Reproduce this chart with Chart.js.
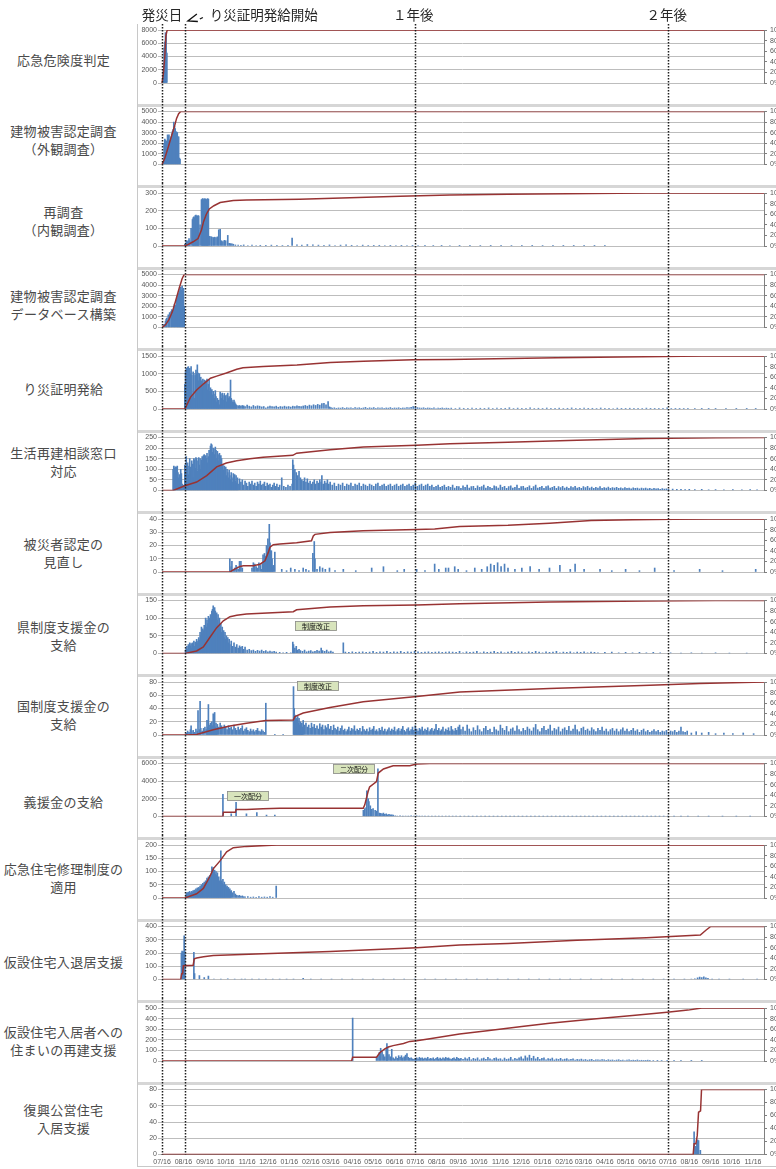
<!DOCTYPE html>
<html><head><meta charset="utf-8">
<script src="https://cdn.jsdelivr.net/npm/chart.js@4.4.1/dist/chart.umd.min.js"></script>
<style>
html,body{margin:0;padding:0;background:#fff;overflow:hidden;width:776px;height:1169px;}
#root{position:relative;width:776px;height:1169px;overflow:hidden;background:#fff;}
.panel{position:absolute;left:137px;width:660px;z-index:2;}
.sep{position:absolute;left:137px;width:639px;height:3px;background:#d6d6d6;z-index:1;}
.lbl{position:absolute;left:0;width:127px;text-align:center;font-family:"Noto Sans CJK JP";font-size:13px;color:#4a4a4a;line-height:18px;letter-spacing:0.3px;white-space:nowrap;}
</style></head>
<body><div id="root"></div>
<script>
// ---------------- data ----------------
const originDate = '2007-07-16';
const tickDates = ['2007-07-16','2007-08-16','2007-09-16','2007-10-16','2007-11-16','2007-12-16','2008-01-16','2008-02-16','2008-03-16','2008-04-16','2008-05-16','2008-06-16','2008-07-16','2008-08-16','2008-09-16','2008-10-16','2008-11-16','2008-12-16','2009-01-16','2009-02-16','2009-03-16','2009-04-16','2009-05-16','2009-06-16','2009-07-16','2009-08-16','2009-09-16','2009-10-16','2009-11-16'];
const tickLabels = ['07/16','08/16','09/16','10/16','11/16','12/16','01/16','02/16','03/16','04/16','05/16','06/16','07/16','08/16','09/16','10/16','11/16','12/16','01/16','02/16','03/16','04/16','05/16','06/16','07/16','08/16','09/16','10/16','11/16'];
const markerDays = [0, 33, 366, 731];
const topTexts = ['発災日','り災証明発給開始','１年後','２年後'];

const panelTitles = [
  ['応急危険度判定'],
  ['建物被害認定調査','（外観調査）'],
  ['再調査','（内観調査）'],
  ['建物被害認定調査','データベース構築'],
  ['り災証明発給'],
  ['生活再建相談窓口','対応'],
  ['被災者認定の','見直し'],
  ['県制度支援金の','支給'],
  ['国制度支援金の','支給'],
  ['義援金の支給'],
  ['応急住宅修理制度の','適用'],
  ['仮設住宅入退居支援'],
  ['仮設住宅入居者への','住まいの再建支援'],
  ['復興公営住宅','入居支援']
];
const leftMax  = [8000,5000,300,5000,1500,250,40,150,80,6000,200,400,500,80];
const leftStep = [2000,1000,100,1000,500,50,10,50,20,2000,50,100,100,20];
const rightTicks = [0,20,40,60,80,100];

// [day since 2007-07-16, count]
const barsKiken = [[2,2000],[3,5300],[4,6200],[5,7600],[6,7500],[7,4500]];
const cumKiken = [[0,0],[2,18],[4,50],[5.5,88],[7,98],[8,100],[870,100]];

const barsGaikan = [[2,300],[3,2000],[4,2400],[5,2300],[6,2200],[7,2000],[8,2800],[9,2700],[10,2800],[11,2200],[12,2300],[13,2600],[14,2900],[15,3100],[16,3300],[17,4000],[18,3600],[19,3400],[20,3100],[21,3050],[22,3000],[23,2600],[24,2600],[25,600],[26,500]];
const cumGaikan = [[0,0],[4,12],[9,33],[14,55],[18,72],[21,87],[24,96],[27,100],[870,100]];

const barsNaikan = [[33,10],[35,30],[36,28],[37,25],[38,30],[39,42],[40,30],[42,100],[44,150],[45,160],[46,165],[47,160],[48,172],[49,175],[50,170],[51,168],[52,172],[53,170],[55,120],[57,262],[58,265],[59,268],[60,262],[61,265],[62,268],[63,264],[64,260],[65,266],[66,268],[67,265],[69,55],[71,52],[72,50],[74,48],[76,50],[78,47],[80,52],[82,92],[84,95],[86,30],[88,25],[90,32],[92,30],[95,60],[97,15],[99,14],[101,12],[103,10],[106,6],[110,5],[114,4],[118,6],[124,3],[130,5],[136,3],[142,4],[150,2],[158,5],[166,4],[174,3],[182,4],[188,45],[195,6],[202,5],[210,8],[218,6],[226,5],[234,4],[242,6],[250,3],[258,5],[266,7],[274,4],[282,3],[290,5],[298,3],[306,2],[314,4],[322,3],[330,2],[338,3],[346,2],[354,3],[362,2],[370,3],[380,2],[392,3],[404,2],[416,3],[430,2],[445,2],[460,3],[475,2],[490,2],[505,3],[520,2],[535,2],[550,3],[565,2],[580,2],[595,2],[610,1],[625,2],[640,1]];
const cumNaikan = [[0,0],[33,0],[38,3],[45,8],[52,14],[57,30],[60,46],[64,60],[68.3,70],[75,76],[84,82],[103,86],[122,87],[199,88],[344,94],[416,96],[500,97.5],[620,99],[700,100],[870,100]];

const barsDb = [[3,300],[5,600],[6,800],[7,900],[9,1200],[10,1000],[11,1400],[13,1500],[14,1700],[15,1600],[17,2000],[18,2200],[19,2100],[21,2600],[22,2800],[23,3000],[24,3200],[25,3400],[26,3600],[27,3800],[28,3500],[29,3900],[30,3600],[31,3700],[32,2000]];
const cumDb = [[0,0],[5,5],[10,15],[15,30],[20,52],[25,75],[29,92],[32,100],[870,100]];

const barsRisai = [[33,700],[34,1050],[35,1150],[36,750],[37,1180],[38,1200],[39,1100],[40,1150],[41,1000],[42,1200],[43,950],[44,350],[45,1050],[46,1000],[47,300],[48,950],[49,1100],[50,1000],[51,1250],[52,1020],[53,800],[54,1000],[55,650],[56,900],[57,800],[58,600],[59,850],[60,700],[61,820],[62,560],[63,800],[64,750],[65,850],[66,540],[67,700],[68,820],[69,500],[70,600],[71,520],[72,550],[73,400],[74,500],[75,420],[76,300],[77,520],[78,350],[79,200],[80,300],[81,150],[82,250],[83,120],[84,480],[85,420],[86,300],[87,450],[88,380],[89,250],[90,440],[91,300],[92,380],[93,200],[94,400],[95,450],[96,300],[97,350],[98,250],[99,820],[100,300],[101,250],[102,200],[103,180],[104,250],[105,200],[106,150],[107,120],[108,100],[110,90],[112,100],[114,80],[116,100],[118,90],[120,70],[123,110],[126,80],[129,60],[132,100],[135,70],[138,90],[141,80],[144,60],[147,70],[150,30],[153,60],[156,80],[159,70],[162,60],[165,80],[168,50],[171,70],[174,60],[177,80],[180,60],[183,70],[186,55],[189,80],[192,65],[195,90],[198,75],[201,70],[204,85],[207,100],[210,80],[213,110],[216,90],[219,120],[222,100],[225,130],[228,110],[231,150],[234,160],[237,120],[240,210],[242,60],[244,40],[246,25],[249,35],[252,20],[255,30],[258,25],[261,40],[264,20],[267,35],[270,25],[273,30],[276,20],[279,40],[282,25],[285,35],[288,20],[291,30],[294,45],[297,20],[300,35],[303,25],[306,40],[309,20],[312,30],[315,25],[318,35],[321,20],[324,30],[327,25],[330,40],[333,20],[336,30],[339,25],[342,35],[345,20],[348,30],[351,25],[354,40],[357,30],[360,50],[363,70],[366,60],[369,40],[372,30],[375,25],[378,35],[381,20],[384,30],[387,25],[390,20],[393,30],[396,15],[399,25],[402,20],[405,30],[408,15],[411,25],[414,20],[418,25],[424,15],[430,30],[436,20],[442,12],[448,28],[454,18],[460,22],[466,10],[472,30],[478,15],[484,25],[490,12],[496,20],[502,35],[508,15],[514,25],[520,10],[526,20],[532,30],[538,15],[544,22],[550,12],[556,28],[562,18],[568,10],[574,25],[580,15],[586,20],[592,30],[598,12],[604,18],[610,25],[616,10],[622,20],[628,15],[634,28],[640,12],[646,20],[652,15],[658,25],[664,10],[670,18],[676,22],[682,12],[688,20],[694,15],[700,25],[706,10],[712,18],[718,12],[724,20],[730,35],[736,15],[742,10],[748,18],[754,12],[760,8],[770,12],[780,8],[790,10],[800,6],[815,8],[830,5],[845,8],[858,5]];
const cumRisai = [[0,0],[33,0],[41,22],[50,36],[60.5,48],[70,58],[79,62],[93,68],[108,75],[117,78],[146,80],[195,83],[243,87.6],[291,90],[363,93],[416,93.5],[570,96.5],[724,99],[780,100],[870,100]];

const barsSodan = [[16,100],[17,115],[18,105],[19,112],[20,95],[21,110],[22,115],[23,85],[24,60],[25,75],[26,45],[27,100],[28,80],[29,30],[31,25],[33,120],[34,90],[35,160],[36,110],[37,130],[38,75],[39,115],[40,150],[41,110],[42,90],[43,140],[44,125],[45,60],[46,150],[47,145],[48,105],[49,155],[50,150],[51,90],[52,140],[53,155],[54,120],[55,150],[56,100],[57,145],[58,160],[59,130],[60,165],[61,170],[62,120],[63,165],[64,150],[65,175],[66,130],[67,160],[68,190],[69,170],[70,210],[71,220],[72,215],[73,180],[74,200],[75,195],[76,170],[77,205],[78,190],[79,150],[80,185],[81,170],[82,140],[83,175],[84,120],[85,165],[86,150],[87,110],[88,120],[89,95],[90,115],[91,80],[92,110],[93,70],[94,100],[95,85],[96,60],[97,95],[98,70],[99,50],[100,85],[101,60],[102,40],[103,80],[104,55],[105,75],[106,45],[107,70],[108,35],[109,60],[110,30],[112,55],[114,40],[116,50],[118,25],[120,45],[122,35],[124,20],[126,40],[128,30],[130,45],[132,25],[134,35],[136,20],[138,40],[140,30],[142,45],[144,25],[146,30],[148,40],[150,20],[152,35],[154,25],[156,30],[158,15],[160,25],[162,35],[164,20],[166,30],[168,15],[170,25],[173,60],[176,20],[179,15],[182,25],[185,20],[188,30],[189,145],[190,120],[192,100],[194,85],[196,70],[198,90],[200,60],[202,50],[204,45],[206,60],[208,40],[210,55],[212,35],[214,45],[216,30],[218,40],[220,50],[222,30],[224,45],[226,35],[228,50],[230,40],[231,70],[233,30],[235,45],[237,35],[239,50],[241,30],[243,40],[246,25],[249,35],[252,20],[255,30],[258,25],[261,35],[264,20],[267,30],[270,25],[273,35],[276,20],[279,30],[282,25],[285,35],[288,20],[291,30],[294,25],[297,20],[300,30],[303,25],[306,20],[309,30],[312,35],[315,20],[318,25],[321,30],[324,20],[327,25],[330,30],[333,20],[336,25],[339,30],[342,20],[345,25],[348,30],[351,20],[354,25],[357,30],[360,20],[363,25],[366,35],[369,20],[372,25],[375,30],[378,20],[381,25],[384,30],[387,20],[390,25],[393,15],[396,20],[399,25],[402,15],[405,20],[408,25],[411,15],[414,20],[417,15],[420,25],[423,12],[426,20],[429,18],[432,10],[435,22],[438,15],[441,25],[444,12],[447,18],[450,20],[453,10],[456,22],[459,15],[462,18],[465,25],[468,12],[471,20],[474,15],[477,10],[480,22],[483,18],[486,12],[489,25],[492,15],[495,20],[498,10],[501,18],[504,22],[507,12],[510,15],[513,25],[516,10],[519,18],[522,20],[525,12],[528,15],[531,22],[534,10],[537,18],[540,25],[543,12],[546,15],[549,20],[552,10],[555,18],[558,22],[561,12],[564,15],[567,20],[570,10],[573,18],[576,14],[579,20],[582,12],[585,16],[588,10],[591,18],[594,14],[597,20],[600,12],[603,15],[606,10],[609,18],[612,14],[615,20],[618,12],[621,16],[624,10],[627,15],[630,12],[633,18],[636,10],[639,14],[642,12],[645,16],[648,10],[651,14],[654,12],[657,15],[660,10],[663,13],[666,9],[669,14],[672,10],[675,12],[678,8],[681,13],[684,10],[687,12],[690,8],[693,11],[696,9],[699,12],[702,8],[705,10],[708,7],[711,10],[714,8],[717,9],[720,6],[723,9],[726,7],[729,8],[732,5],[738,7],[744,5],[750,6],[756,4],[762,6],[770,4],[780,5],[790,3],[800,4],[812,3],[825,4],[838,3],[850,4],[860,3]];
const cumSodan = [[0,0],[16,0],[33,9],[50,16],[64.6,28],[79,44.6],[93,52],[108,56],[127,60],[146,62.7],[189,66.3],[194.6,70.5],[243,76.7],[291,82],[368,85.5],[416,88],[500,91],[600,95],[700,98],[800,99.5],[870,100]];

const barsMinaoshi = [[98,10],[100,4],[101,8],[103,2],[105,3],[107,5],[108,4],[110,2],[112,8],[114,8],[116,3],[130,3],[132,7],[134,6],[136,4],[138,3],[140,7],[142,5],[144,2],[145,6],[146,13],[147,8],[148,14],[149,5],[150,12],[151,20],[152,15],[153,25],[154,18],[155,36],[156,22],[157,16],[158,16],[159,10],[160,4],[161,5],[163,15],[173,2],[180,1],[186,3],[192,2],[198,1],[204,3],[208,2],[212,1],[218,14],[220,23],[221,10],[224,2],[228,4],[232,3],[236,2],[242,3],[250,1],[262,2],[280,1],[303,3],[320,4],[340,1],[350,2],[368,2],[380,1],[394,6],[400,2],[410,3],[414,3],[423,4],[428,2],[440,1],[452,3],[462,2],[470,4],[475,6],[480,5],[485,7],[490,4],[495,6],[500,3],[510,2],[520,3],[532,4],[545,2],[560,3],[575,5],[590,2],[597,6],[610,2],[633,2],[650,1],[670,2],[690,1],[712,3],[740,1],[777,2],[810,1],[858,2]];
const cumMinaoshi = [[0,0],[98,0],[103,4],[112.7,10.5],[117.5,11.6],[132,11.6],[141.6,14.7],[148.8,21],[153.6,37],[156,47],[160.8,51.6],[170.4,52.6],[194.5,55],[216,59],[218.6,68],[221,71],[242.7,74.7],[290.8,78],[368,80],[394,81],[430,86],[500,88],[560,92],[620,97],[680,98.5],[740,99.5],[790,100],[870,100]];

const barsKen = [[34,10],[35,15],[36,20],[37,12],[38,25],[39,18],[40,30],[41,22],[42,28],[43,15],[44,30],[45,25],[46,35],[47,20],[48,32],[49,28],[50,40],[51,30],[52,35],[53,45],[54,38],[55,60],[56,50],[57,75],[58,55],[59,70],[60,65],[61,80],[62,60],[63,100],[64,75],[65,95],[66,85],[67,105],[68,90],[69,100],[70,110],[71,95],[72,120],[73,125],[74,135],[75,110],[76,130],[77,120],[78,105],[79,115],[80,95],[81,110],[82,80],[83,100],[84,70],[85,85],[86,60],[87,75],[88,55],[89,65],[90,45],[91,60],[92,40],[93,50],[94,35],[95,45],[96,30],[97,40],[98,25],[100,35],[102,20],[104,30],[106,18],[108,25],[110,15],[112,22],[114,18],[116,20],[118,12],[120,18],[123,10],[126,12],[129,8],[132,10],[135,6],[138,9],[141,7],[144,10],[147,6],[150,8],[153,5],[156,7],[159,5],[162,6],[165,4],[170,3],[175,2],[180,3],[186,2],[189,32],[190,25],[192,15],[194,20],[196,10],[198,12],[200,8],[203,6],[206,10],[209,5],[212,7],[215,8],[218,5],[221,6],[224,9],[227,7],[230,15],[232,8],[235,6],[238,10],[241,5],[244,7],[247,4],[262,30],[265,4],[270,3],[275,5],[280,3],[285,4],[290,5],[295,3],[300,4],[305,6],[310,3],[315,5],[320,4],[325,6],[330,3],[335,5],[340,4],[345,6],[350,3],[355,5],[360,4],[365,6],[370,5],[375,3],[380,4],[385,5],[390,3],[395,4],[400,5],[405,3],[410,4],[415,5],[420,4],[425,3],[430,6],[435,2],[440,5],[445,3],[450,4],[455,6],[460,2],[465,5],[470,3],[475,4],[480,6],[485,3],[490,5],[495,2],[500,4],[505,6],[510,3],[515,5],[520,4],[525,2],[530,5],[535,3],[540,6],[545,4],[550,2],[555,5],[560,3],[565,4],[570,6],[575,2],[580,4],[585,3],[590,5],[595,2],[600,4],[605,3],[610,5],[615,2],[620,4],[625,3],[630,2],[640,3],[650,4],[660,2],[670,3],[680,2],[690,3],[700,2],[710,3],[720,2],[735,2],[750,1],[765,2],[780,1],[800,2],[820,1],[845,1]];
const cumKen = [[0,0],[33,0],[50,4.7],[59.7,12.4],[69.3,30.6],[79,48.7],[88.6,61.7],[98.2,69.4],[108,72],[122,74.6],[189.7,78.8],[194.5,82.4],[242.7,87.6],[290.8,90],[368,91.7],[430,93.8],[560,97],[700,99],[800,100],[870,100]];

const barsKuni = [[35,3],[37,6],[39,4],[41,8],[42,14],[43,5],[45,7],[47,4],[49,9],[51,6],[52,37],[54,8],[55,51],[56,10],[58,6],[60,10],[62,12],[64,8],[65,22],[66,12],[67,46],[68,15],[69,10],[70,18],[71,12],[72,20],[73,14],[74,32],[75,16],[76,34],[77,12],[78,18],[79,10],[80,16],[82,12],[84,18],[86,14],[88,10],[90,15],[92,12],[94,8],[96,14],[98,10],[100,12],[102,8],[104,15],[106,10],[108,7],[110,12],[112,8],[114,10],[116,14],[118,6],[120,9],[122,11],[124,7],[126,5],[128,9],[130,6],[132,8],[134,5],[136,7],[138,10],[140,6],[142,5],[144,8],[146,6],[148,4],[150,48],[163,1],[175,1],[190,73],[191,40],[192,30],[193,28],[194,25],[195,22],[196,28],[197,18],[198,25],[199,15],[200,20],[201,14],[202,18],[203,12],[204,22],[206,15],[208,18],[210,12],[212,15],[214,10],[216,18],[218,12],[220,16],[222,10],[224,14],[226,9],[228,17],[230,12],[232,15],[234,8],[236,14],[238,11],[240,16],[242,9],[244,13],[246,7],[248,15],[250,10],[252,8],[254,12],[256,6],[258,10],[260,14],[262,7],[264,9],[266,5],[268,8],[270,12],[272,6],[274,10],[276,8],[278,14],[280,6],[282,9],[284,7],[286,10],[288,5],[290,13],[292,8],[294,6],[296,9],[298,5],[300,11],[302,7],[304,9],[306,13],[308,6],[310,8],[312,5],[314,10],[316,7],[318,12],[320,6],[322,9],[324,5],[326,8],[328,11],[330,6],[332,9],[334,7],[336,12],[338,5],[340,8],[342,10],[344,6],[346,9],[348,13],[350,7],[352,5],[354,9],[356,11],[358,6],[360,8],[362,12],[364,7],[366,14],[368,9],[370,6],[372,10],[374,8],[376,12],[378,6],[380,9],[382,7],[384,11],[386,5],[388,8],[390,10],[392,6],[394,9],[396,16],[398,7],[400,10],[402,6],[404,8],[406,12],[408,5],[410,9],[412,7],[414,11],[416,6],[418,13],[420,8],[422,6],[424,10],[426,7],[428,12],[430,15],[432,8],[435,12],[438,6],[441,15],[444,9],[447,5],[450,11],[453,7],[456,14],[459,8],[462,5],[465,10],[468,13],[471,7],[474,9],[477,4],[480,12],[483,8],[486,6],[489,15],[492,10],[495,7],[498,13],[501,5],[504,9],[507,11],[510,6],[513,14],[516,8],[519,5],[522,10],[525,7],[528,12],[531,9],[534,6],[537,11],[540,16],[543,8],[546,5],[549,10],[552,13],[555,7],[558,9],[561,15],[564,6],[567,10],[570,8],[573,12],[576,5],[579,9],[582,11],[585,7],[588,13],[591,6],[594,9],[597,15],[600,8],[603,5],[606,10],[609,12],[612,7],[615,9],[618,6],[621,11],[624,8],[627,5],[630,10],[633,7],[636,12],[639,6],[642,9],[645,5],[648,8],[651,10],[654,6],[657,9],[660,5],[663,8],[666,11],[669,6],[672,9],[675,5],[678,7],[681,10],[684,6],[687,8],[690,4],[693,7],[696,9],[699,5],[702,7],[705,4],[708,6],[711,8],[714,5],[717,7],[720,4],[723,6],[726,5],[729,7],[732,4],[735,6],[738,5],[741,7],[744,4],[747,6],[750,12],[753,5],[756,4],[759,6],[765,3],[772,5],[780,3],[790,4],[800,2],[812,3],[825,2],[840,3],[855,2]];
const cumKuni = [[0,0],[33,0],[50,1],[74,10],[98,16.8],[122,22],[150,27.4],[189.7,28.4],[192,34.7],[204,41.6],[242.7,52],[290.8,62.6],[368,72.6],[430.5,81],[560,87.6],[705,94],[777,97],[870,100]];

const barsGienkin = [[88,2500],[100,300],[107,1600],[122,300],[137,450],[151,150],[163,150],[291,700],[293,900],[295,1000],[296,2900],[298,2000],[299,1700],[301,1200],[303,800],[305,900],[308,700],[310,600],[312,5400],[314,400],[316,350],[318,300],[320,400],[322,250],[324,300],[326,200],[328,250],[330,180],[332,200],[334,150],[337,80],[340,60],[344,70],[348,50],[352,60],[356,40],[360,80],[364,50],[368,90],[372,40],[376,60],[380,30],[385,50],[390,40],[395,30],[400,45],[405,30],[410,40],[415,25],[420,30],[425,25],[431,15],[437,30],[443,12],[449,20],[455,10],[461,25],[467,15],[473,10],[479,20],[485,12],[491,18],[497,8],[503,15],[509,10],[515,20],[521,8],[527,12],[533,15],[539,10],[545,8],[551,12],[557,6],[563,10],[569,8],[575,12],[581,6],[587,10],[593,8],[599,5],[605,9],[611,6],[617,10],[623,5],[629,8],[635,6],[641,9],[647,5],[653,7],[659,4],[665,8],[671,5],[677,6],[683,4],[689,7],[695,5],[701,6],[707,4],[713,5],[719,3],[725,5],[731,4],[740,3],[750,4],[760,2],[775,3],[790,2],[810,3],[830,2],[850,2]];
const cumGienkin = [[0,0],[88,0],[88.6,7.8],[106,7.8],[107,13],[122,13],[146,14.6],[170,15.6],[290.8,15.6],[293,22],[298,48],[300,55.7],[310,66],[312.5,82],[320,89.6],[334,95.8],[358,95.8],[368,99],[387,100],[870,100]];

const barsOukyu = [[35,15],[36,20],[37,18],[38,22],[39,15],[40,25],[41,20],[42,18],[43,25],[44,22],[45,28],[46,20],[47,30],[48,25],[49,35],[50,30],[51,38],[52,32],[53,40],[54,35],[55,45],[56,38],[57,50],[58,42],[59,55],[60,48],[61,60],[62,52],[63,65],[64,58],[65,75],[66,70],[67,80],[68,72],[69,85],[70,78],[71,90],[72,118],[73,100],[74,115],[75,95],[76,105],[77,90],[78,100],[79,85],[80,95],[81,70],[82,80],[83,65],[84,60],[85,178],[86,65],[87,55],[88,70],[89,50],[90,60],[91,45],[92,50],[93,40],[94,45],[95,35],[96,40],[97,30],[98,35],[99,25],[100,28],[102,20],[104,25],[106,15],[108,10],[110,8],[112,10],[114,6],[116,8],[118,5],[120,4],[124,5],[128,3],[132,4],[136,3],[140,5],[144,3],[148,4],[152,3],[156,5],[160,3],[165,45]];
const cumOukyu = [[0,0],[33,0],[50,8],[59.7,18],[69.3,41],[74,55],[83.8,70],[93.4,87],[103,95],[122,97.4],[165.5,100],[870,100]];

const barsKasetsu = [[28,200],[29,215],[30,205],[31,210],[32,330],[33,210],[46,205],[47,45],[54,30],[61,15],[67,25],[75,4],[85,3],[95,5],[105,3],[115,2],[120,2],[130,3],[140,2],[150,3],[160,2],[170,3],[180,2],[190,2],[204,8],[215,2],[230,3],[245,2],[260,3],[275,2],[290,3],[305,2],[320,3],[335,2],[350,3],[365,2],[380,3],[395,2],[410,3],[425,2],[440,3],[455,2],[470,3],[485,2],[500,3],[515,2],[530,3],[545,2],[560,3],[575,2],[590,3],[605,2],[620,3],[635,2],[650,3],[665,2],[680,3],[695,2],[710,3],[725,2],[740,3],[755,2],[765,4],[770,6],[774,12],[777,18],[780,15],[783,20],[786,12],[789,8],[795,3],[805,2],[820,2],[840,2],[860,2]];
const cumKasetsu = [[0,0],[27,0],[28.4,11],[29.8,11],[30.8,26],[45,27],[46.6,39],[50,40.7],[60,42.8],[74,45.4],[146,48.5],[243,53],[368,60],[430,65],[500,68],[600,74],[700,79],[778,84],[786,93],[793,100],[870,100]];

const barsSaiken = [[275.5,405],[310,30],[312,50],[314,80],[316,120],[318,90],[320,60],[322,40],[324,110],[325,165],[326,130],[328,60],[330,40],[332,110],[334,30],[336,20],[338,40],[340,25],[342,50],[344,35],[346,50],[348,30],[350,40],[352,55],[354,70],[356,35],[358,25],[360,30],[362,20],[364,15],[366,25],[368,30],[370,20],[372,35],[374,25],[376,30],[378,20],[380,28],[382,22],[384,35],[386,18],[388,25],[390,20],[392,30],[394,15],[396,25],[398,35],[400,20],[402,28],[404,18],[406,30],[408,22],[410,35],[412,25],[414,30],[416,20],[418,15],[420,25],[422,30],[424,18],[426,35],[428,25],[430,20],[432,25],[435,15],[438,30],[441,20],[444,35],[447,12],[450,25],[453,18],[456,30],[459,10],[462,22],[465,28],[468,15],[471,35],[474,20],[477,12],[480,25],[483,30],[486,18],[489,22],[492,10],[495,28],[498,15],[501,20],[504,35],[507,12],[510,25],[513,18],[516,30],[519,40],[522,20],[525,48],[528,30],[531,55],[534,25],[537,45],[540,20],[543,35],[546,15],[549,25],[552,30],[555,12],[558,22],[561,18],[564,28],[567,10],[570,20],[573,15],[576,25],[579,12],[582,18],[585,22],[588,10],[591,15],[594,20],[597,8],[600,15],[603,12],[606,18],[609,10],[612,14],[615,8],[618,12],[621,15],[624,6],[627,10],[630,12],[633,8],[636,14],[639,10],[642,6],[645,12],[648,8],[651,10],[654,5],[657,9],[660,12],[663,6],[666,9],[669,5],[672,8],[675,10],[678,4],[681,8],[684,6],[687,10],[690,5],[693,7],[696,4],[699,6],[702,8],[705,3],[710,5],[716,3],[722,4],[730,2],[740,3],[750,2],[765,2],[780,1]];
const cumSaiken = [[0,0],[274,0],[275.5,7.3],[310,7.3],[315,16],[322,23],[327,26.4],[334,29],[349,33],[358,37],[368,38.3],[387,42],[430,51],[470,57],[520,65],[560,71],[620,79],[680,86],[730,92],[760,96],[780,100],[870,100]];

const barsKoei = [[769,28],[771.5,10],[773,15],[774,18],[775.4,17],[778,5]];
const cumKoei = [[0,0],[767.6,0],[769,16.5],[771.5,16.5],[773.5,29],[775.4,65],[778.3,67],[779.7,100],[870,100]];

// annotation boxes: panel index, day, value
const noteTexts  = ['制度改正','制度改正','一次配分','二次配分'];
const notePanels = [7, 8, 9, 9];
const noteDays   = [223, 225, 124, 278];
const noteValues = [77, 74, 2335, 5326];

// ---------------- layout ----------------
const barSeries = [barsKiken,barsGaikan,barsNaikan,barsDb,barsRisai,barsSodan,barsMinaoshi,barsKen,barsKuni,barsGienkin,barsOukyu,barsKasetsu,barsSaiken,barsKoei];
const cumSeries = [cumKiken,cumGaikan,cumNaikan,cumDb,cumRisai,cumSodan,cumMinaoshi,cumKen,cumKuni,cumGienkin,cumOukyu,cumKasetsu,cumSaiken,cumKoei];
const labelShift = [-2.5,-4,-5,-2,0,-8,1,3,0,6,0,2.5,0,-3];

const PLOT_TOP0 = 30, PITCH = 81.5, PLOT_H = 65;
const dayOf = s => (Date.parse(s) - Date.parse(originDate)) / 864e5;
const tickDays = tickDates.map(dayOf);

Chart.defaults.font.family = '"Liberation Sans", Arial, sans-serif';
Chart.defaults.color = '#595959';

const root = document.getElementById('root');

const decor = {
  id: 'decor',
  afterDatasetsDraw(chart, args, o) {
    const ctx = chart.ctx, x = chart.scales.x, y = chart.scales.y;
    ctx.save();
    ctx.strokeStyle = '#1e1e1e';
    ctx.lineWidth = 1.5;
    ctx.setLineDash([1.6, 1.4]);
    const bottom = o.last ? chart.chartArea.bottom : chart.height;
    markerDays.forEach(d => {
      const px = Math.round(x.getPixelForValue(d)) + 0.5;
      ctx.beginPath(); ctx.moveTo(px, o.lineTop); ctx.lineTo(px, bottom); ctx.stroke();
    });
    ctx.setLineDash([]);
    noteTexts.forEach((t, k) => {
      if (notePanels[k] !== o.index) return;
      const px = Math.round(x.getPixelForValue(noteDays[k])), py = Math.round(y.getPixelForValue(noteValues[k]));
      ctx.fillStyle = '#d8e4bc';
      ctx.fillRect(px - 21, py - 5, 42, 10);
      ctx.strokeStyle = '#8c8c8c'; ctx.lineWidth = 0.8;
      ctx.strokeRect(px - 20.5, py - 4.5, 41, 9);
      ctx.fillStyle = '#111';
      ctx.font = '7px "Noto Sans CJK JP"';
      ctx.textAlign = 'center'; ctx.textBaseline = 'middle';
      ctx.fillText(t, px, py + 0.5);
    });
    if (o.index === 0) {
      ctx.fillStyle = '#262626';
      ctx.font = '13.5px "Noto Sans CJK JP"';
      ctx.textBaseline = 'middle';
      const x0 = x.getPixelForValue(markerDays[0]);
      const x1 = x.getPixelForValue(markerDays[1]);
      const x2 = x.getPixelForValue(markerDays[2]);
      const x3 = x.getPixelForValue(markerDays[3]);
      ctx.textAlign = 'center';
      ctx.fillText(topTexts[0], x0, 15);
      ctx.fillText(topTexts[2], x2 - 2, 15);
      ctx.fillText(topTexts[3], x3 - 1, 15);
      ctx.textAlign = 'left';
      ctx.fillText(topTexts[1], x1 + 25, 15);
      ctx.strokeStyle = '#111'; ctx.lineWidth = 1.3;
      ctx.beginPath(); ctx.moveTo(x1 + 12, 14); ctx.lineTo(x1 + 3, 21); ctx.lineTo(x1 + 13, 21.5); ctx.stroke();
      ctx.beginPath(); ctx.moveTo(x1 + 15, 19); ctx.lineTo(x1 + 18, 17.5); ctx.stroke();
    }
    ctx.restore();
  }
};

for (let i = 0; i < 14; i++) {
  const T = PLOT_TOP0 + PITCH * i;
  const last = i === 13;
  const top = i === 0 ? 0 : Math.floor(T - 10);
  const padTop = T - top;
  const H = last ? 90 : (i === 0 ? Math.round(padTop + PLOT_H + 7) : 82);
  const padBottom = last ? H - padTop - PLOT_H - 12 : H - padTop - PLOT_H;

  const div = document.createElement('div');
  div.className = 'panel';
  div.style.top = top + 'px';
  div.style.height = H + 'px';
  const cv = document.createElement('canvas');
  cv.width = 660; cv.height = H;
  cv.style.width = '660px'; cv.style.height = H + 'px';
  div.appendChild(cv);
  root.appendChild(div);

  if (i < 13) {
    const s = document.createElement('div');
    s.className = 'sep';
    s.style.top = Math.round(T + PITCH - 8) + 'px';
    root.appendChild(s);
  }

  const lines = panelTitles[i];
  const lb = document.createElement('div');
  lb.className = 'lbl';
  lb.innerHTML = lines.join('<br>');
  lb.style.top = (T + PLOT_H / 2 + labelShift[i] - lines.length * 9) + 'px';
  root.appendChild(lb);

  new Chart(cv, {
    type: 'bar',
    data: {
      datasets: [
        { type: 'line', data: cumSeries[i].map(p => ({ x: p[0], y: p[1] })), yAxisID: 'y2',
          borderColor: '#983333', borderWidth: 1.5, pointRadius: 0, tension: 0, order: 1 },
        { type: 'bar', data: barSeries[i].map(p => ({ x: p[0], y: p[1] })), yAxisID: 'y',
          backgroundColor: '#4f81bd', borderWidth: 0, barThickness: 1, order: 2 }
      ]
    },
    options: {
      responsive: false, animation: false, events: [],
      layout: { padding: { top: padTop, bottom: padBottom, left: 0, right: 0 } },
      plugins: { legend: { display: false }, tooltip: { enabled: false },
        decor: { index: i, last: last, lineTop: i === 0 ? 24 : 0 } },
      scales: {
        x: {
          type: 'linear', min: -1.5, max: 870, display: last, offset: false,
          grid: { display: false, drawTicks: false, offset: false },
          border: { display: true, color: '#8c8c8c' },
          afterBuildTicks: s => { s.ticks = tickDays.map(v => ({ value: v })); },
          afterFit: s => { s.height = 12; },
          ticks: { autoSkip: false, maxRotation: 0, minRotation: 0, padding: 3,
            font: { size: 7 }, color: '#595959',
            callback: (v, idx) => tickLabels[idx] }
        },
        y: {
          position: 'left', min: 0, max: leftMax[i],
          afterFit: s => { s.width = 24; },
          afterBuildTicks: s => { const t = []; for (let v = 0; v <= leftMax[i]; v += leftStep[i]) t.push({ value: v }); s.ticks = t; },
          ticks: { autoSkip: false, font: { size: 7 }, color: '#595959', padding: 1, callback: v => String(v) },
          grid: { color: '#bdbdbd', lineWidth: 1, tickLength: 3, tickColor: '#bdbdbd' },
          border: { display: false }
        },
        y2: {
          position: 'right', min: 0, max: 100,
          afterFit: s => { s.width = 33; },
          afterBuildTicks: s => { s.ticks = rightTicks.map(v => ({ value: v })); },
          ticks: { autoSkip: false, font: { size: 7 }, color: '#595959', padding: 3, callback: v => v + '%' },
          grid: { drawOnChartArea: false, tickLength: 3, tickColor: '#7f7f7f' },
          border: { display: true, color: '#7f7f7f', width: 1 }
        }
      }
    },
    plugins: [decor]
  });
}

const lf = document.createElement('div');
lf.style.cssText = 'position:absolute;left:137px;top:24px;width:1px;height:1143px;background:#c8c8c8;z-index:1;';
root.appendChild(lf);
const bf = document.createElement('div');
bf.style.cssText = 'position:absolute;left:137px;top:1166px;width:639px;height:1px;background:#c8c8c8;z-index:1;';
root.appendChild(bf);
</script>
</body></html>
